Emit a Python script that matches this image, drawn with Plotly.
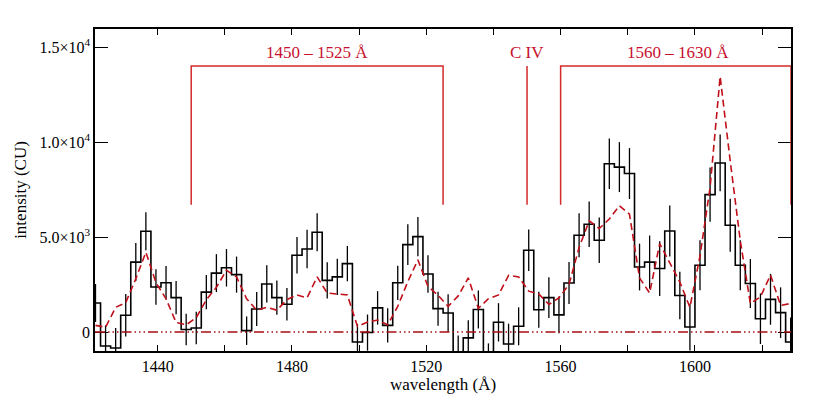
import numpy as np
import plotly.graph_objects as go

# 3 A wide bins, centres from 1421.5 to 1628.5
wavelength = np.arange(1421.5, 1630, 3.0)

counts = [1530, -740, -840, 880, 3680, 5300, 2370, 2590, 1810, 130,
          210, 2100, 3100, 3380, 3020, 70, 1210, 2530, 1810, 1460,
          4040, 4370, 5250, 2720, 2900, 3600, -530, -30, 1270, 350,
          2590, 4600, 5020, 3050, 1230, 1000, -1150, -310, 1185, -1600,
          510, -630, 300, 4300, 1175, 1810, 900, 2580, 5090, 5670,
          4830, 8860, 8680, 8340, 3420, 3680, 3340, 5320, 1920, 260,
          3510, 7230, 8900, 5620, 3510, 2550, 700, 1720, 1020, -530]

errors = [1000, 1090, 1050, 1120, 1000, 1000, 930, 880, 880, 830,
          850, 900, 1000, 985, 950, 750, 900, 980, 900, 860,
          960, 1010, 1000, 950, 950, 930, 950, 950, 880, 900,
          900, 1070, 1035, 990, 895, 985, 960, 930, 1000, 1000,
          1010, 1070, 1000, 1090, 950, 1070, 970, 1100, 1160, 1200,
          1200, 1330, 1315, 1340, 1230, 1400, 1440, 1340, 1250, 1230,
          1315, 1430, 1490, 1400, 1316, 1290, 1330, 1340, 1330, 1300]

model = [350, 250, 1300, 1550, 2800, 4200, 2600, 1750, 500, 380,
         750, 1700, 2350, 3250, 2900, 1750, 1150, 1300, 1150, 1700,
         1950, 1800, 2900, 2050, 2000, 1950, 300, 520, 630, 380,
         1350, 2650, 3800, 2400, 1930, 1350, 1900, 2850, 1250, 1750,
         1950, 2980, 2900, 2150, 2000, 1450, 1800, 2500, 4450, 5850,
         5450, 5950, 6650, 6200, 2850, 2050, 4650, 3680, 2630, 1300,
         4000, 7600, 13450, 9000, 4800, 1500, 1850, 3000, 1400, 1500]

brackets = [(1450, 1525, "1450 – 1525 Å"), (1560, 1630, "1560 – 1630 Å")]
civ_line = (1550, "C IV")
bracket_top = 14000
bracket_bottom = 6700

x_range = [1421.35, 1628.6]
y_range = [-1000, 15950]
ytick_vals = [0, 5000, 10000, 15000]
ytick_text = ["0", "5.0×10<sup>3</sup>", "1.0×10<sup>4</sup>", "1.5×10<sup>4</sup>"]
xtick_vals = [1440, 1480, 1520, 1560, 1600]

RED = "#c8102e"
LINE_RED = "#d42a2a"
FONT = "Liberation Serif"

fig = go.Figure()

fig.add_trace(go.Scatter(
    x=wavelength, y=counts, mode="markers",
    marker=dict(size=0.1, color="black", opacity=0),
    error_y=dict(type="data", array=errors, width=0, thickness=1.3, color="black"),
    showlegend=False, hoverinfo="skip"))

fig.add_trace(go.Scatter(
    x=wavelength, y=counts, mode="lines", line_shape="hvh",
    line=dict(color="black", width=1.6), showlegend=False))

fig.add_trace(go.Scatter(
    x=wavelength, y=model, mode="lines",
    line=dict(color="#c0101a", width=1.6, dash="7px,4px"), showlegend=False))

fig.add_hline(y=0, line=dict(color="#a80e14", width=1.4,
                             dash="10px,3px,1.5px,3px,1.5px,3px,1.5px,3px"))

# bracket markers for the integration bands
for lo, hi, label in brackets:
    hi_c = min(hi, x_range[1])
    fig.add_shape(type="path",
                  path=f"M {lo},{bracket_bottom} L {lo},{bracket_top} L {hi_c},{bracket_top} L {hi_c},{bracket_bottom}",
                  line=dict(color=LINE_RED, width=1.5), xref="x", yref="y")
    fig.add_annotation(x=(lo + hi) / 2, y=bracket_top, text=label, showarrow=False,
                       yanchor="bottom", yshift=2, font=dict(family=FONT, size=17, color=RED))

fig.add_shape(type="line", x0=civ_line[0], x1=civ_line[0], y0=bracket_bottom, y1=bracket_top,
              line=dict(color=LINE_RED, width=1.5), xref="x", yref="y")
fig.add_annotation(x=civ_line[0], y=bracket_top, text=civ_line[1], showarrow=False,
                   yanchor="bottom", yshift=2, font=dict(family=FONT, size=17, color=RED))

fig.update_xaxes(
    range=x_range, tickvals=xtick_vals, ticks="inside", ticklen=6, tickwidth=1.2,
    minor=dict(dtick=20, tick0=1420, ticks="inside", ticklen=6, tickwidth=1.2, tickcolor="black"),
    showline=True, linecolor="black", linewidth=1.5, mirror="ticks", showgrid=False,
    zeroline=False, tickcolor="black", ticklabelstandoff=0,
    title=dict(text="wavelength (Å)", font=dict(family=FONT, size=17), standoff=2),
    tickfont=dict(family=FONT, size=16))

fig.update_yaxes(
    range=y_range, tickvals=ytick_vals, ticktext=ytick_text, ticks="inside", ticklen=13,
    tickwidth=1.2, tickcolor="black",
    showline=True, linecolor="black", linewidth=1.5, mirror="ticks", showgrid=False,
    zeroline=False,
    title=dict(text="intensity (CU)", font=dict(family=FONT, size=17), standoff=8),
    tickfont=dict(family=FONT, size=16))

fig.update_layout(
    width=801, height=393,
    margin=dict(l=82, r=18, t=21, b=50),
    plot_bgcolor="white", paper_bgcolor="white",
    font=dict(family=FONT, color="black"),
    showlegend=False)

fig.write_html("out.html")
